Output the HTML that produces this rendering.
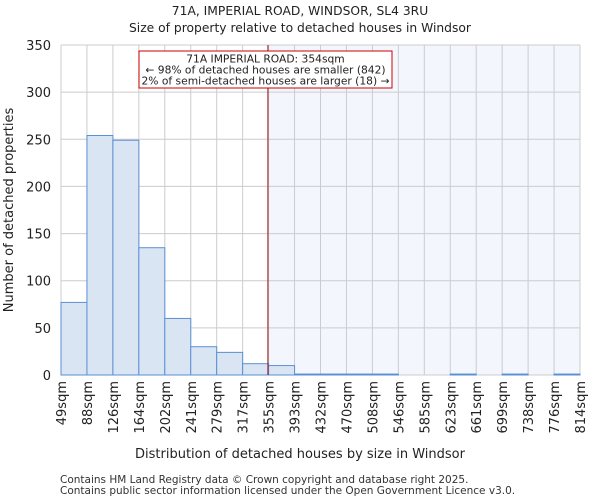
<!DOCTYPE html>
<html><head><meta charset="utf-8"><style>
body{margin:0;background:#fff;font-family:"DejaVu Sans","Liberation Sans",sans-serif;}
svg text{font-family:"DejaVu Sans","Liberation Sans",sans-serif;}
</style></head><body>
<svg id="c" width="600" height="500" xmlns="http://www.w3.org/2000/svg">
<text x="300" y="15" text-anchor="middle" font-size="12.3" fill="#222">71A, IMPERIAL ROAD, WINDSOR, SL4 3RU</text>
<text x="300" y="32" text-anchor="middle" font-size="12.3" fill="#222">Size of property relative to detached houses in Windsor</text>
<g id="plot"></g>
<text x="300" y="458" text-anchor="middle" font-size="13" fill="#222">Distribution of detached houses by size in Windsor</text>
<text transform="translate(13,210) rotate(-90)" text-anchor="middle" font-size="13" fill="#222">Number of detached properties</text>
<text x="60" y="483" font-size="10.5" fill="#333">Contains HM Land Registry data © Crown copyright and database right 2025.</text>
<text x="60" y="494" font-size="10.5" fill="#333">Contains public sector information licensed under the Open Government Licence v3.0.</text>
</svg>
<script>
const categories=["49sqm","88sqm","126sqm","164sqm","202sqm","241sqm","279sqm","317sqm","355sqm","393sqm","432sqm","470sqm","508sqm","546sqm","585sqm","623sqm","661sqm","699sqm","738sqm","776sqm","814sqm"];
const counts=[77,254,249,135,60,30,24,12,10,1,1,1,1,0,0,1,0,1,0,1];
const yTicks=[0,50,100,150,200,250,300,350];
const markerValue=354;
const binStart=49, binWidthSqm=38.25;
const X0=61,X1=580,Y0=375,Y1=45,YMAX=350;
const bw=(X1-X0)/counts.length;
const x=i=>X0+i*bw;
const xv=v=>X0+(v-binStart)/binWidthSqm*bw;
const y=v=>Y0-(v/YMAX)*(Y0-Y1);
const ns="http://www.w3.org/2000/svg";
const g=document.getElementById('plot');
function mk(t,a){const e=document.createElementNS(ns,t);for(const k in a)e.setAttribute(k,a[k]);g.appendChild(e);return e;}
const mx=xv(markerValue);
let e=mk('rect',{x:mx,y:Y1,width:X1-mx,height:Y0-Y1,fill:'#f3f6fd'});


yTicks.forEach(t=>{
 let l=mk('line',{x1:X0,x2:X1,y1:y(t),y2:y(t),stroke:'#ccc'});
 
 
 let tx=mk('text',{x:X0-10,y:y(t)+5,'text-anchor':'end','font-size':13,fill:'#222'});
 tx.textContent=t;
 
 
});
categories.forEach((c,i)=>{
 let l=mk('line',{x1:x(i),x2:x(i),y1:Y1,y2:Y0,stroke:'#ccc'});
 
 
 let tx=mk('text',{transform:`translate(${x(i)+5},${Y0+6}) rotate(-90)`,'text-anchor':'end','font-size':13,fill:'#222'});
 tx.textContent=c;
 
 
});
counts.forEach((v,i)=>{
 if(v<=0)return;
 let r=mk('rect',{x:x(i),y:y(v),width:bw,height:Y0-y(v),fill:'#dae5f4',stroke:'#5b8fd4','stroke-width':1});
 
 
});
let ml=mk('line',{x1:mx,x2:mx,y1:Y1,y2:Y0,stroke:'#a01010','stroke-width':1});


let bx=mk('rect',{x:139,y:51,width:253,height:37,fill:'#fff',stroke:'#c00'});


["71A IMPERIAL ROAD: 354sqm","← 98% of detached houses are smaller (842)","2% of semi-detached houses are larger (18) →"].forEach((s,i)=>{
 let t=mk('text',{x:265.5,y:62.5+i*11,'text-anchor':'middle','font-size':10.7,fill:'#222'});
 t.textContent=s;
 
 
});
</script>
</body></html>
